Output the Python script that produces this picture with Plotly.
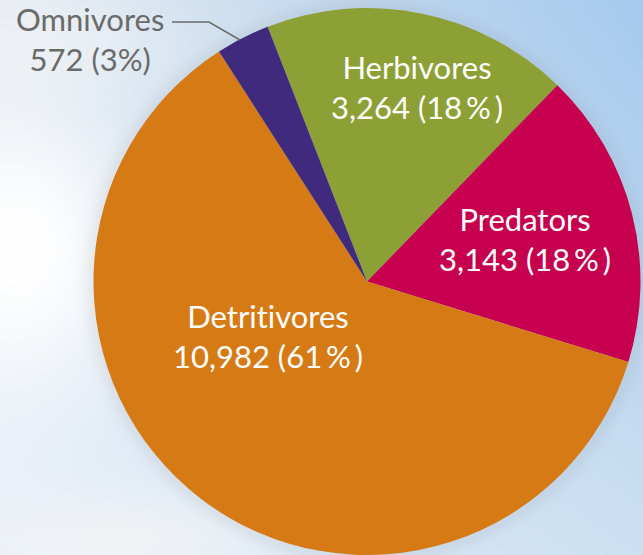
import base64, struct, zlib
import numpy as np
import plotly.graph_objects as go

# ---------------- data ----------------
categories = ["Herbivores", "Predators", "Detritivores", "Omnivores"]
counts = [3264, 3143, 10982, 572]
percent_labels = ["18\u2009%\u2009", "18\u2009%\u2009", "61\u2009%\u2009", "3%"]
slice_colors = ["#8ca035", "#c6004e", "#d67a16", "#3f2a7e"]

W, H = 643, 555
CX, CY, R = 367, 282, 274  # pie placement in pixels (layout)


# ---------------- background (sky-like soft gradient) ----------------
def make_bg():
    yy, xx = np.mgrid[0:H, 0:W].astype(float)
    u = xx / (W - 1)
    v = yy / (H - 1)
    tl = np.array([228, 234, 240.0])
    tr = np.array([166, 202, 238.0])
    bl = np.array([232, 240, 249.0])
    br = np.array([204, 224, 242.0])
    img = ((1 - u)[..., None] * (1 - v)[..., None] * tl + u[..., None] * (1 - v)[..., None] * tr
           + (1 - u)[..., None] * v[..., None] * bl + u[..., None] * v[..., None] * br)
    # white cloud on the left
    blob = np.exp(-(((xx - 20) / 110) ** 2 + ((yy - 250) / 140) ** 2))
    img = img * (1 - blob[..., None]) + 255 * blob[..., None]
    blob2 = np.exp(-(((xx - 60) / 110) ** 2 + ((yy - 40) / 50) ** 2)) * 0.4
    img = img * (1 - blob2[..., None]) + 250 * blob2[..., None]
    blob3 = np.exp(-(((xx - 120) / 160) ** 2 + ((yy - 540) / 50) ** 2)) * 0.7
    img = img * (1 - blob3[..., None]) + 245 * blob3[..., None]
    # soft shadow halo around the pie
    d = np.sqrt((xx - CX) ** 2 + (yy - CY) ** 2) - R
    sh = np.where(d > 0, np.exp(-(d / 10.0) ** 2), 1.0) * 0.10
    img = img * (1 - sh[..., None]) + 120 * sh[..., None]
    img = np.clip(img, 0, 255).astype(np.uint8)
    raw = b"".join(b"\x00" + img[r].tobytes() for r in range(H))

    def chunk(tag, data):
        c = tag + data
        return struct.pack(">I", len(data)) + c + struct.pack(">I", zlib.crc32(c) & 0xffffffff)

    png = (b"\x89PNG\r\n\x1a\n" + chunk(b"IHDR", struct.pack(">IIBBBBB", W, H, 8, 2, 0, 0, 0))
           + chunk(b"IDAT", zlib.compress(raw, 9)) + chunk(b"IEND", b""))
    return "data:image/png;base64," + base64.b64encode(png).decode()


# ---------------- figure ----------------
fig = go.Figure(go.Pie(
    labels=categories,
    values=counts,
    sort=False,
    direction="clockwise",
    rotation=-21.3,
    marker=dict(colors=slice_colors, line=dict(width=0)),
    textinfo="none",
    hoverinfo="label+value+percent",
    domain=dict(x=[(CX - R) / W, (CX + R) / W], y=[max(0, 1 - (CY + R) / H), 1 - (CY - R) / H]),
    showlegend=False,
))

FONT = "Lato, 'Open Sans', sans-serif"


def fmt(n):
    return f"{n:,}"


def no_lig(s):
    # avoid the "ti" ligature of the font
    return s.replace("ti", "t\u200ci")


# label anchor positions (pixels) for each category
label_pos = {
    "Herbivores": (417, 87),
    "Predators": (525, 239),
    "Detritivores": (268, 336),
}
annotations = []
for cat, cnt, pct in zip(categories, counts, percent_labels):
    if cat in label_pos:
        px, py = label_pos[cat]
        annotations.append(dict(
            x=px / W, y=1 - py / H, xref="paper", yref="paper",
            text=f"{no_lig(cat)}<br>{fmt(cnt)} ({pct})",
            showarrow=False, xanchor="center", yanchor="middle", align="center",
            font=dict(family=FONT, size=31, color="white"),
        ))
    else:
        annotations.append(dict(
            x=90 / W, y=1 - 39 / H, xref="paper", yref="paper",
            text=f"{cat}<br>{fmt(cnt)} ({pct})",
            showarrow=False, xanchor="center", yanchor="middle", align="center",
            font=dict(family=FONT, size=31, color="#6a6b69"),
        ))

# leader line for Omnivores
lx = [172, 209, 240]
ly = [22, 22, 40]
path = "M " + " L ".join(f"{x / W:.5f},{1 - y / H:.5f}" for x, y in zip(lx, ly))

fig.update_layout(
    width=W, height=H,
    margin=dict(l=0, r=0, t=0, b=0),
    paper_bgcolor="#dbe7f1",
    plot_bgcolor="rgba(0,0,0,0)",
    images=[dict(source=make_bg(), xref="paper", yref="paper", x=0, y=1, sizex=1, sizey=1,
                 xanchor="left", yanchor="top", sizing="stretch", layer="below")],
    annotations=annotations,
    shapes=[dict(type="path", path=path, xref="paper", yref="paper",
                 line=dict(color="#6a6b69", width=1.5))],
)

fig.write_html("out.html", config={"displayModeBar": False},
               post_script="document.body.style.margin='0px';document.body.style.overflow='hidden';")
